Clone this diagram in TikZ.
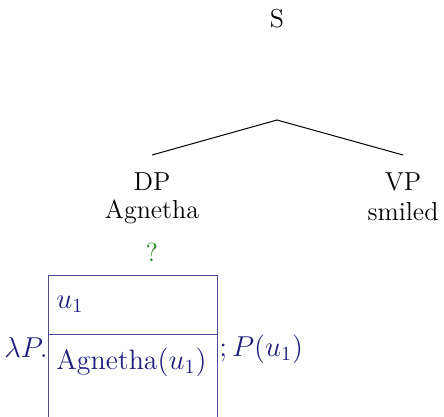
\documentclass[tikz,border=0pt]{standalone}
\usepackage{amsmath}
\definecolor{drsblue}{RGB}{30,30,125}
\definecolor{qgreen}{RGB}{20,130,20}
\begin{document}
\begin{tikzpicture}[x=0.5pt,y=-0.5pt,
  every node/.style={font=\fontsize{13}{15}\selectfont, inner sep=0pt},
  lbl/.style={anchor=center},
  drs/.style={text=drsblue, font=\fontsize{14}{16}\selectfont},
  boxline/.style={draw=drsblue!80, line width=0.5pt}]
\useasboundingbox (0,0) rectangle (444,417);
\node[lbl] (S) at (277,19) {S};
\coordinate (top) at (277,120);
\coordinate (dpend) at (152,155);
\coordinate (vpend) at (403,155);
\node[lbl] (DP) at (152,182) {DP};
\node[lbl] (Ag) at (152,212) {Agnetha};
\node[lbl] (VP) at (403,182) {VP};
\node[lbl] (sm) at (403,212) {smiled};
\node[lbl,text=qgreen] (q) at (152,252) {?};
\draw[line width=0.5pt] (dpend) -- (top) -- (vpend);
% DRS box
\coordinate (tl) at (48,275);
\coordinate (tr) at (217,275);
\coordinate (ml) at (48,334);
\coordinate (mr) at (217,334);
\coordinate (bl) at (48,417);
\coordinate (br) at (217,417);
\draw[boxline] (bl) -- (tl) -- (tr) -- (br);
\draw[boxline] (ml) -- (mr);
\node[drs,anchor=west] (u) at (56,304) {$u_1$};
\node[drs,anchor=west] (cond) at (56,362) {Agnetha$(u_1)$};
\node[drs,anchor=east] (lam) at (48,347) {$\lambda P.$};
\node[drs,anchor=west] (app) at (219,349) {$;P(u_1)$};
\end{tikzpicture}
\end{document}
